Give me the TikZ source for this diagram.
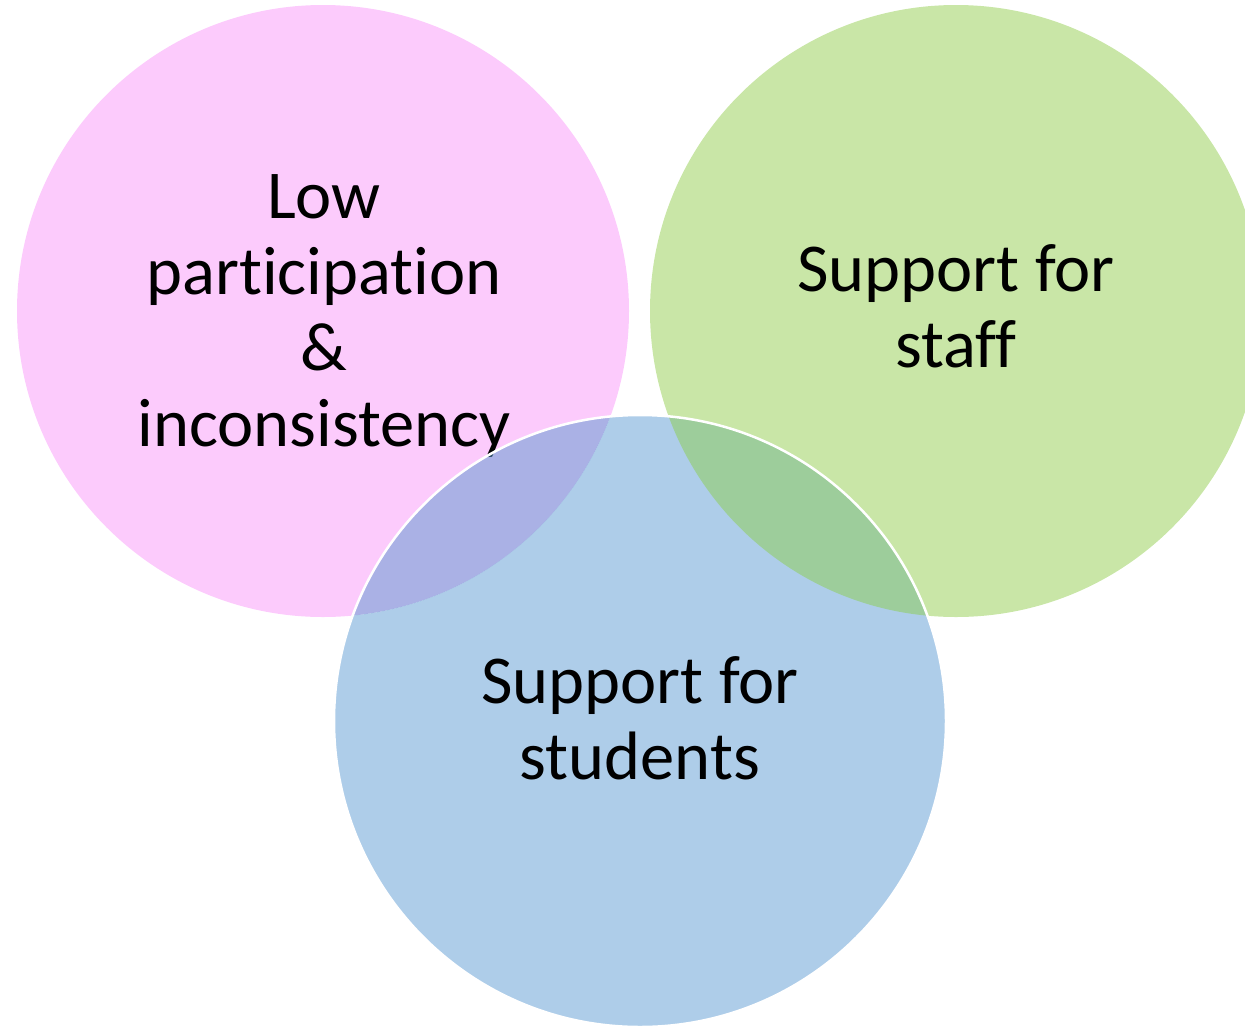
\documentclass[tikz,border=0pt]{standalone}
\usepackage{fontspec}
\setmainfont[Ligatures=CommonOff]{Carlito}
\definecolor{pinkc}{RGB}{252,203,252}
\definecolor{greenc}{RGB}{201,230,167}
\definecolor{bluec}{RGB}{174,205,233}
\definecolor{pbmix}{RGB}{90,153,208}
\definecolor{gbmix}{RGB}{157,205,155}
\begin{document}
\begin{tikzpicture}[x=1pt,y=-1pt,
  lbl/.style={align=center,inner sep=0pt,font=\fontsize{68.5}{76}\selectfont,text=black}]
\useasboundingbox (0,0) rectangle (1245,1026);
\coordinate (pc) at (323,311);
\coordinate (gc) at (956,311);
\coordinate (bc) at (640,721);
\fill[pinkc] (pc) circle[radius=306];
\fill[greenc] (gc) circle[radius=306];
\node[lbl] (low) at (324,316.5) {Low\\participation\\\&\\inconsistency};
\node[lbl] (staff) at (956,306.5) {Support for\\staff};
\begin{scope}
  \clip (bc) circle[radius=306];
  \fill[bluec,even odd rule] (bc) circle[radius=306] (pc) circle[radius=306];
  \fill[pbmix,fill opacity=0.5] (pc) circle[radius=306];
  \fill[gbmix] (gc) circle[radius=306];
\end{scope}
\draw[white,line width=2.5pt] (bc) circle[radius=306];
\node[lbl] (students) at (640,718.5) {Support for\\students};
\end{tikzpicture}
\end{document}
